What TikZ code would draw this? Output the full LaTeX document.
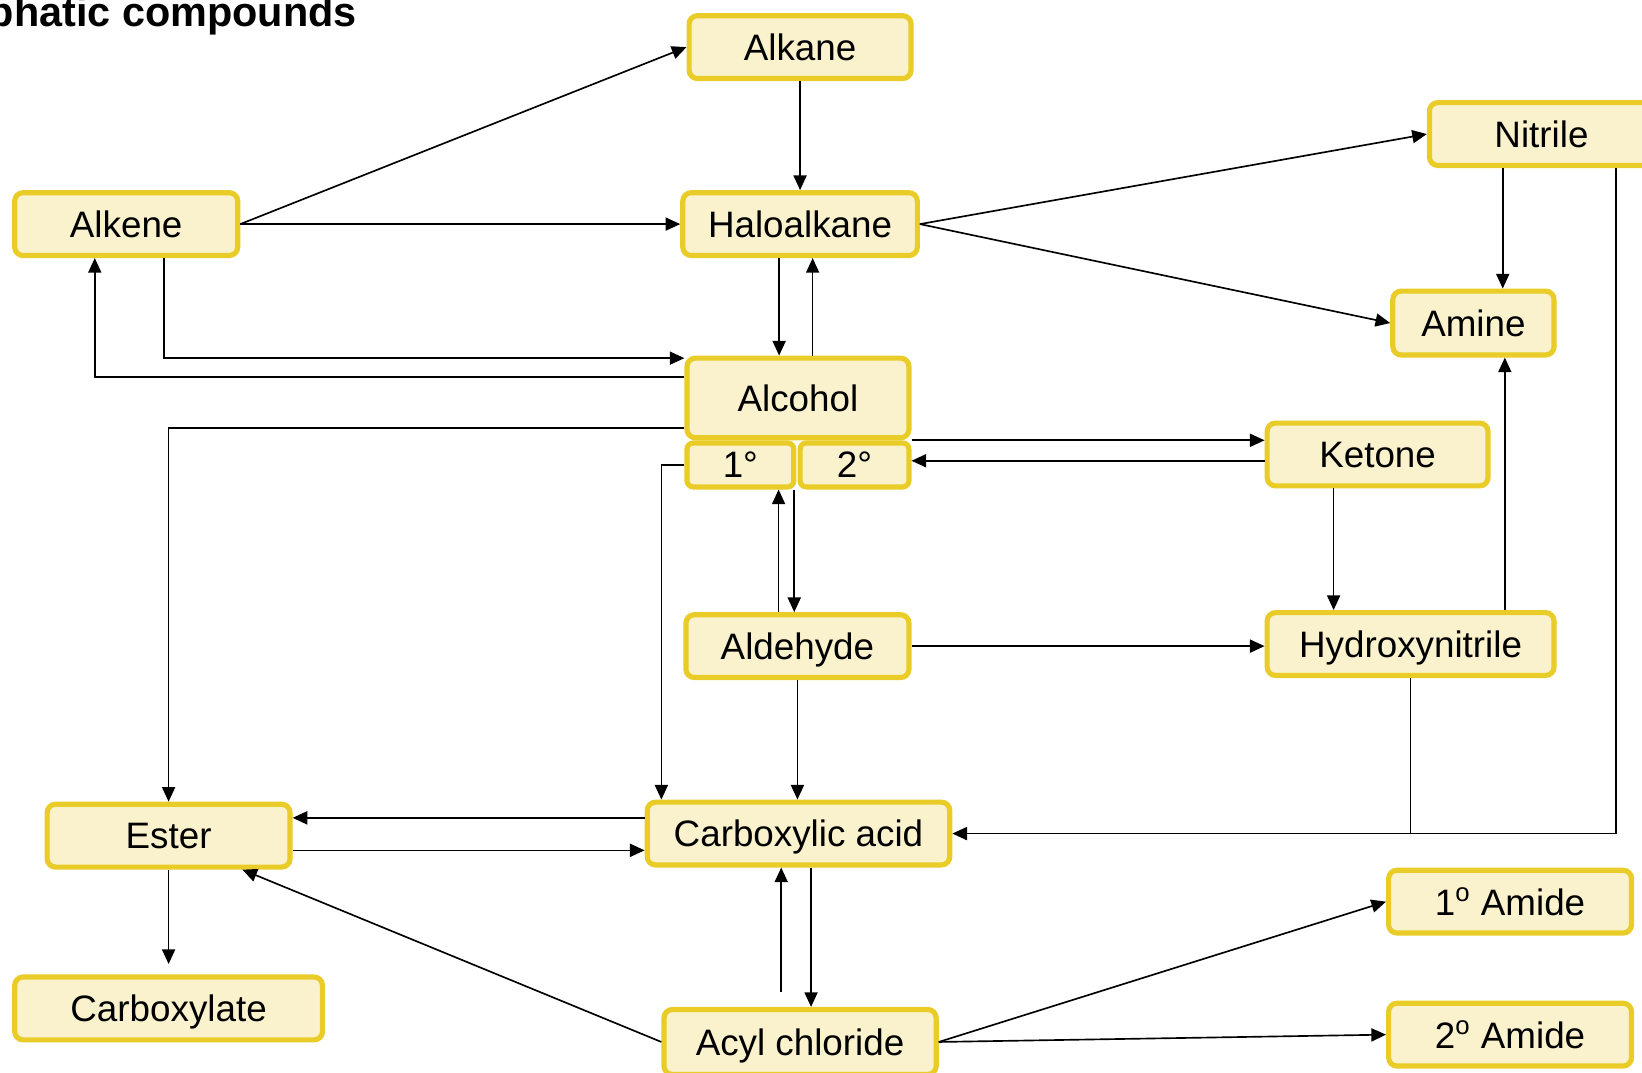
\documentclass[tikz,border=0pt]{standalone}
\usepackage{fontspec}
\setmainfont{Liberation Sans}
\usetikzlibrary{calc,arrows.meta}
\definecolor{boxfill}{RGB}{250,242,204}
\definecolor{boxline}{RGB}{233,204,40}

\begin{document}
\begin{tikzpicture}[x=0.02cm,y=0.02cm,
    cpd/.style={draw=boxline,fill=boxfill,line width=2.8pt,rounded corners=0.16cm,
      minimum height=1.2cm,inner sep=0pt,text depth=0pt,font=\fontsize{20}{24}\selectfont},
    link/.style={-{Triangle[length=0.28cm,width=0.25cm]},line width=0.9pt}]
      \clip (0,0) rectangle (1568,-1024);
      \useasboundingbox (0,0) rectangle (1568,-1024);

      % title, cut at the left edge
      \node[anchor=base east,font=\fontsize{22.5}{26}\selectfont\bfseries] (title) at (347,-25) {Aliphatic compounds};

      % compounds
      \node[cpd,minimum width=4.24cm] (alkane) at (764,-45) {Alkane};
      \node[cpd,minimum width=4.26cm] (alkene) at (120.5,-214) {Alkene};
      \node[cpd,minimum width=4.48cm] (halo) at (764,-214) {Haloalkane};
      \node[cpd,minimum width=4.28cm] (nitrile) at (1472,-128) {Nitrile};
      \node[cpd,minimum width=3.08cm,minimum height=1.22cm] (amine) at (1407,-308.5) {Amine};
      \node[cpd,minimum width=4.24cm,minimum height=1.52cm] (alcohol) at (762,-380) {Alcohol};
      \node[cpd,minimum width=2.04cm,minimum height=0.84cm,rounded corners=0.12cm] (p1) at (707,-444) {1°};
      \node[cpd,minimum width=2.08cm,minimum height=0.84cm,rounded corners=0.12cm] (p2) at (816,-444) {2°};
      \node[cpd,minimum width=4.22cm] (ketone) at (1315.5,-434) {Ketone};
      \node[cpd,minimum width=4.26cm] (aldehyde) at (761.5,-617) {Aldehyde};
      \node[cpd,minimum width=5.48cm] (hydroxy) at (1347,-615) {Hydroxynitrile};
      \node[cpd,minimum width=4.64cm] (ester) at (161,-798) {Ester};
      \node[cpd,minimum width=5.78cm] (acid) at (762.5,-796) {Carboxylic acid};
      \node[cpd,minimum width=5.88cm] (carboxylate) at (161,-963) {Carboxylate};
      \node[cpd,minimum width=5.2cm,minimum height=1.24cm] (acyl) at (764,-995) {Acyl chloride};
      \node[cpd,minimum width=4.64cm] (amide1) at (1442,-861) {1\textsuperscript{o} Amide};
      \node[cpd,minimum width=4.64cm] (amide2) at (1442,-988) {2\textsuperscript{o} Amide};

      % helper points on the boxes
      \coordinate (n1) at ($(amine.north)+(28,0)$);
      \coordinate (n2) at ($(nitrile.south)+(71,0)$);
      \coordinate (h1) at ($(halo.south)+(-20,0)$);
      \coordinate (h2) at ($(alcohol.north)+(14,0)$);
      \coordinate (k1) at ($(ketone.west)+(0,-6)$);
      \coordinate (k2) at ($(ketone.south)+(-42,0)$);
      \coordinate (h3) at ($(amine.south)+(30,0)$);
      \coordinate (d1) at ($(aldehyde.north)+(-18,0)$);
      \coordinate (d2) at ($(p1.south east)+(-2,0)$);
      \coordinate (c1) at ($(acid.west)+(0,15)$);
      \coordinate (e1) at ($(ester.east)+(0,-14)$);
      \coordinate (a1) at ($(acyl.north)+(-18,0)$);
      \coordinate (a2) at ($(acid.south)+(12,0)$);

      % reactions
      \draw[link] (alkene.east) -- (alkane.west);
      \draw[link] (alkene.east) -- (halo.west);
      \draw[link] (alkane.south) -- (halo.north);
      \draw[link] (halo.east) -- (nitrile.west);
      \draw[link] (halo.east) -- (amine.west);
      \draw[link] (n1 |- nitrile.south) -- (n1);
      \draw[link] (n2) |- (acid.east);
      \draw[line width=0.9pt] (hydroxy.south) -- (hydroxy.south |- acid.east);
      \draw[link] (h1) -- (h1 |- alcohol.north);
      \draw[link] (h2) -- (h2 |- halo.south);
      \draw[link] ($(alkene.south)+(36,0)$) |- ($(alcohol.west)+(0,38)$);
      \draw[link] ($(alcohol.west)+(0,20)$) -| ($(alkene.south)+(-30,0)$);
      \draw[link] ($(alcohol.west)+(0,-29)$) -| (ester.north);
      \draw[link] (alcohol.south east) -- (alcohol.south east -| ketone.west);
      \draw[link] (k1) -- (k1 -| p2.east);
      \draw[link] (p1.west) -| ($(acid.north west)+(16,0)$);
      \draw[link] (d1) -- (d1 |- p1.south);
      \draw[link] (d2) -- (d2 |- aldehyde.north);
      \draw[link] (aldehyde.east) -- (aldehyde.east -| hydroxy.west);
      \draw[link] (k2) -- (k2 |- hydroxy.north);
      \draw[link] (h3 |- hydroxy.north) -- (h3);
      \draw[link] (aldehyde.south) -- (aldehyde.south |- acid.north);
      \draw[link] (c1) -- (c1 -| ester.east);
      \draw[link] (e1) -- (e1 -| acid.west);
      \draw[link,shorten >=0.2cm] (ester.south) -- (carboxylate.north);
      \draw[link,shorten <=0.28cm] (a1) -- (a1 |- acid.south);
      \draw[link] (a2) -- (a2 |- acyl.north);
      \draw[link] (acyl.west) -- ($(ester.south east)+(-48,0)$);
      \draw[link] (acyl.east) -- (amide1.west);
      \draw[link] (acyl.east) -- (amide2.west);
\end{tikzpicture}
\end{document}
